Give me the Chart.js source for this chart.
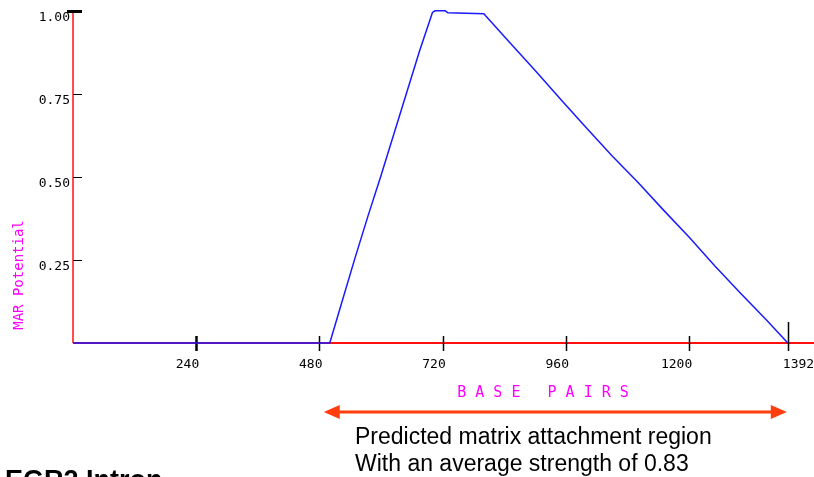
<!DOCTYPE html>
<html>
<head>
<meta charset="utf-8">
<script src="https://cdn.jsdelivr.net/npm/chart.js@4/dist/chart.umd.min.js"></script>
<style>
html,body{margin:0;padding:0;background:#fff;overflow:hidden;}
#wrap{width:814px;height:477px;}
</style>
</head>
<body>
<div id="wrap"><canvas id="c" width="814" height="477"></canvas></div>
<script>
// ---- data ----
const basePairs = [0, 500, 525, 550, 575, 600, 625, 650, 675, 700, 705, 725, 730, 800, 850, 900, 950, 1000, 1050, 1100, 1150, 1200, 1250, 1300, 1350, 1392];
const marPotential = [0, 0, 0.13, 0.26, 0.385, 0.505, 0.63, 0.755, 0.88, 0.995, 1.0, 1.0, 0.994, 0.991, 0.905, 0.82, 0.733, 0.647, 0.563, 0.484, 0.40, 0.318, 0.232, 0.15, 0.07, 0];
const xTicks = [240, 480, 720, 960, 1200, 1392];
const yTicks = [0.25, 0.50, 0.75, 1.00];
const xMax = 1443;
const yTitle = 'MAR Potential';
const xTitle = 'B A S E   P A I R S';
const noteLines = ['Predicted matrix attachment region', 'With an average strength of 0.83'];
const regionStart = 500, regionEnd = 1392;
const bottomTitle = 'EGR2 Intron';

const MONO = '"DejaVu Sans Mono", "Liberation Mono", monospace';
const SANS = '"Liberation Sans", Arial, sans-serif';

const axesPlugin = {
  id: 'axesPlugin',
  beforeDatasetsDraw(chart) {
    const ctx = chart.ctx, xs = chart.scales.x, ys = chart.scales.y, a = chart.chartArea;
    const y0 = ys.getPixelForValue(0);
    const xL = xs.getPixelForValue(0);
    ctx.save();
    // red axes
    ctx.strokeStyle = '#ff1010';
    ctx.lineWidth = 1.5;
    ctx.beginPath();
    ctx.moveTo(xL, a.top); ctx.lineTo(xL, y0);
    ctx.stroke();
    ctx.lineWidth = 2;
    ctx.beginPath();
    ctx.moveTo(xL, y0); ctx.lineTo(a.right, y0);
    ctx.stroke();
    // y tick marks (inside)
    ctx.strokeStyle = '#000';
    yTicks.forEach(v => {
      const py = Math.round(ys.getPixelForValue(v)) + 0.5;
      ctx.beginPath();
      if (v === 1) { ctx.lineWidth = 3; ctx.moveTo(xL - 6, py); }
      else { ctx.lineWidth = 1; ctx.moveTo(xL, py); }
      ctx.lineTo(xL + 9, py);
      ctx.stroke();
    });
    // x tick marks
    xTicks.forEach((v, i) => {
      const px = Math.round(xs.getPixelForValue(v)) + 0.5;
      ctx.lineWidth = (i === 0) ? 2.5 : 1.5;
      ctx.beginPath();
      ctx.moveTo(px, (i === xTicks.length - 1) ? y0 - 21 : y0 - 7);
      ctx.lineTo(px, y0 + 8);
      ctx.stroke();
    });
    ctx.restore();
  },
  afterDraw(chart) {
    const ctx = chart.ctx, xs = chart.scales.x, ys = chart.scales.y;
    const y0 = ys.getPixelForValue(0);
    ctx.save();
    // x tick labels
    ctx.fillStyle = '#000';
    ctx.font = '13px ' + MONO;
    ctx.textBaseline = 'middle';
    xTicks.forEach((v, i) => {
      const px = xs.getPixelForValue(v);
      if (i === xTicks.length - 1) { ctx.textAlign = 'left'; ctx.fillText(String(v), px - 5, y0 + 22); }
      else { ctx.textAlign = 'right'; ctx.fillText(String(v), px + 3, y0 + 22); }
    });
    // y title (rotated)
    ctx.fillStyle = '#ff00ff';
    ctx.font = '14px ' + MONO;
    ctx.save();
    ctx.translate(19, 275);
    ctx.rotate(-Math.PI / 2);
    ctx.textAlign = 'center';
    ctx.textBaseline = 'middle';
    ctx.fillText(yTitle, 0, 0);
    ctx.restore();
    // x title
    ctx.font = '15px ' + MONO;
    ctx.textAlign = 'center';
    ctx.textBaseline = 'middle';
    ctx.fillText(xTitle, 543, 393);
    // arrow over the region
    const ax1 = xs.getPixelForValue(regionStart) - 6;
    const ax2 = xs.getPixelForValue(regionEnd) - 1;
    const ay = 412;
    ctx.strokeStyle = '#ff3d0d';
    ctx.fillStyle = '#ff3d0d';
    ctx.lineWidth = 3;
    ctx.beginPath();
    ctx.moveTo(ax1 + 10, ay); ctx.lineTo(ax2 - 10, ay);
    ctx.stroke();
    ctx.beginPath();
    ctx.moveTo(ax1, ay); ctx.lineTo(ax1 + 16, ay - 7); ctx.lineTo(ax1 + 16, ay + 7); ctx.closePath();
    ctx.fill();
    ctx.beginPath();
    ctx.moveTo(ax2, ay); ctx.lineTo(ax2 - 16, ay - 7); ctx.lineTo(ax2 - 16, ay + 7); ctx.closePath();
    ctx.fill();
    // note text
    ctx.fillStyle = '#000';
    ctx.font = '23px ' + SANS;
    ctx.textAlign = 'left';
    ctx.textBaseline = 'alphabetic';
    ctx.fillText(noteLines[0], 355, 444);
    ctx.fillText(noteLines[1], 355, 471);
    // bottom title (cut off by the frame)
    ctx.font = 'bold 27px ' + SANS;
    ctx.fillText(bottomTitle, 5, 489);
    ctx.restore();
  }
};

new Chart(document.getElementById('c'), {
  type: 'line',
  data: {
    datasets: [{
      data: basePairs.map((x, i) => ({ x: x, y: marPotential[i] })),
      borderColor: '#1a1aff',
      borderWidth: 1.5,
      pointRadius: 0,
      tension: 0,
      fill: false,
      clip: false
    }]
  },
  options: {
    responsive: false,
    animation: false,
    devicePixelRatio: 1,
    layout: { padding: { top: 8, right: 0, left: 0, bottom: 0 } },
    plugins: { legend: { display: false }, tooltip: { enabled: false } },
    scales: {
      x: {
        type: 'linear',
        min: 0, max: xMax,
        grid: { display: false, drawTicks: false },
        border: { display: false },
        ticks: { display: false },
        afterBuildTicks: s => { s.ticks = xTicks.map(v => ({ value: v })); },
        afterFit: s => { s.height = 134; }
      },
      y: {
        min: 0, max: 1,
        grid: { display: false, drawTicks: false },
        border: { display: false },
        ticks: {
          color: '#000',
          font: { family: MONO, size: 13 },
          padding: 3,
          labelOffset: 7,
          callback: v => Number(v).toFixed(2)
        },
        afterBuildTicks: s => { s.ticks = yTicks.map(v => ({ value: v })); },
        afterFit: s => { s.height = s.height; s.width = 73; }
      }
    }
  },
  plugins: [axesPlugin]
});
</script>
</body>
</html>
